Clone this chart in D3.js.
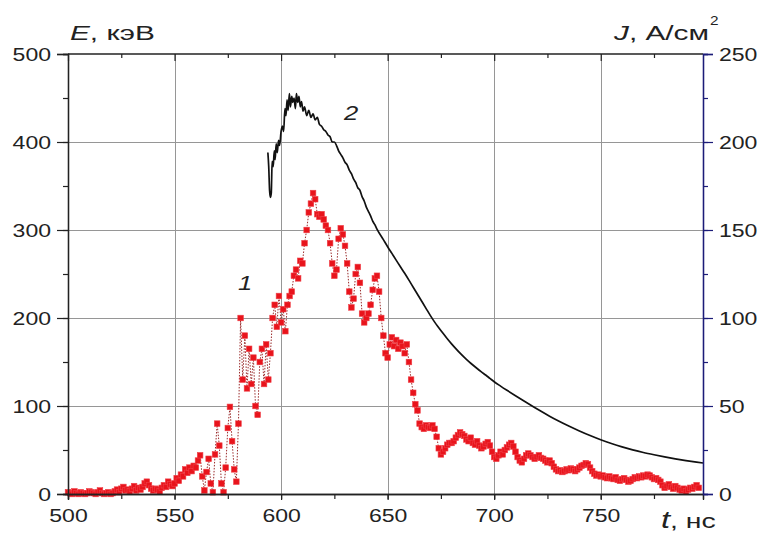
<!DOCTYPE html>
<html>
<head>
<meta charset="utf-8">
<script src="https://cdn.jsdelivr.net/npm/d3@7/dist/d3.min.js"></script>
<style>
  html, body { margin: 0; padding: 0; background: #fff; }
  svg { display: block; font-family: "Liberation Sans", Arial, sans-serif; }
</style>
</head>
<body>
<svg id="chart" width="763" height="533"></svg>
<script>
// Curve 1: electron energy E (keV), sampled every 1 ns from 500 ns
const energyStart = 500;
const energyValues = [
  2, 1, 0, 3, 1, 0, 2, 1, 0, 1,
  3, 2, 1, 0, 2, 4, 1, 0, 1, 2,
  0, 1, 3, 5, 2, 6, 8, 4, 5, 3,
  6, 9, 4, 7, 5, 8, 12, 14, 10, 6,
  4, 6, 5, 3, 7, 10, 8, 14, 11, 9,
  12, 18, 15, 22, 20, 28, 24, 30, 26, 32,
  30, 38, 44, 20, 4, 25, 40, 12, 2, 45,
  80, 55, 12, 2, 30, 75, 99, 60, 28, 14,
  80, 200, 130, 180, 120, 165, 125, 155, 100, 90,
  150, 165, 125, 170, 130, 160, 200, 215, 190, 225,
  195, 210, 185, 215, 225, 230, 248, 255, 245, 265,
  262, 285, 300, 320, 330, 342, 335, 318, 315, 318,
  312, 305, 300, 285, 262, 248, 255, 290, 302, 295,
  282, 262, 230, 212, 222, 250, 258, 240, 205, 195,
  200, 205, 215, 232, 245, 248, 230, 200, 180, 160,
  155, 170, 178, 168, 175, 165, 172, 168, 160, 170,
  150, 130, 115, 102, 95, 80, 76, 74, 78, 76,
  75, 78, 74, 65, 52, 45, 48, 52, 56, 58,
  58, 60, 64, 67, 70, 68, 66, 62, 60, 64,
  58, 56, 60, 55, 52, 54, 57, 59, 55, 48,
  42, 40, 44, 48, 45, 50, 53, 56, 58, 54,
  48, 42, 38, 36, 40, 44, 46, 44, 42, 40,
  42, 44, 41, 40, 38, 36, 38, 35, 31, 28,
  26, 27, 25, 26, 28, 27, 29, 28, 26, 28,
  30, 32, 33, 35, 34, 30, 26, 23, 21, 22,
  20, 21, 19, 18, 20, 18, 17, 19, 16, 15,
  17, 18, 16, 14, 15, 17, 19, 18, 20, 19,
  21, 20, 22, 21, 19, 17, 18, 16, 14, 10,
  7, 9, 11, 8, 6, 9, 7, 5, 4, 6,
  3, 5, 7, 6, 8, 10, 7
];

// Curve 2: current density J (A/cm^2)
const currentTimes = [
  593.8, 594.2, 594.6, 595.0, 595.4, 595.8, 596.3, 596.8, 597.2, 597.7,
  598.2, 598.8, 599.3, 600.0, 600.6, 601.2, 601.8, 602.3, 602.8, 603.3,
  603.9, 604.4, 605.0, 605.5, 606.1, 606.7, 607.2, 607.8, 608.4, 609.0,
  609.6, 610.3, 611, 612, 613, 614, 615, 616, 617, 618,
  619, 620, 621, 622, 623, 624, 625, 626, 627, 628,
  629, 630, 631, 632, 633, 634, 635, 636, 637, 638,
  639, 640, 641, 642, 643, 644, 645, 648, 650, 652,
  654, 656, 658, 660, 662, 664, 666, 668, 670, 672,
  674, 676, 678, 680, 682, 684, 686, 688, 690, 692,
  694, 696, 698, 700, 703, 706, 710, 714, 718, 722,
  726, 730, 735, 740, 745, 750, 755, 760, 765, 770,
  775, 780, 785, 790, 795, 798
];
const currentValues = [
  194, 186, 172.5, 168.5, 171, 189, 186, 195, 190, 199,
  194, 201, 198, 206, 209, 206, 219, 215, 224, 218,
  227.5, 220, 226, 222.5, 225, 219, 227.5, 222.5, 226, 220,
  223, 217.5, 220, 215, 218, 214, 216, 212.5, 214, 210,
  209, 207, 206, 204, 203, 200, 200, 198, 195, 193,
  191, 188.5, 187, 184, 182, 179, 177, 174, 172.5, 169,
  166.5, 163, 160.5, 158, 155, 153, 150.5, 144.5, 140.5, 136.7,
  132.9, 129.1, 125.4, 121.5, 117.5, 113.5, 109.5, 105.5, 101.5, 97.8,
  94.5, 91.3, 88.2, 85.3, 82.6, 80, 77.6, 75.4, 73.3, 71.3,
  69.4, 67.6, 65.7, 63.8, 61.3, 58.9, 55.8, 52.8, 49.9, 47.0,
  44.2, 41.6, 38.6, 35.8, 33.2, 30.8, 28.7, 26.8, 25.1, 23.6,
  22.3, 21.1, 20.0, 19.0, 18.1, 17.6
];

const xTicks = [500, 550, 600, 650, 700, 750];
const leftTicks = [0, 100, 200, 300, 400, 500];
const rightTicks = [0, 50, 100, 150, 200, 250];

const energy = energyValues.map((v, i) => ({ t: energyStart + i, v }));
const current = currentTimes.map((t, i) => ({ t, v: currentValues[i] }));

const svg = d3.select("#chart");
const L = 68, R = 703, T = 54, B = 494;
const ink = "#222";
const navy = "#1c1c78";
const stretch = 1.28;      // wide lettering for numbers
const titleStretch = 1.42; // wide lettering for axis titles

const x = d3.scaleLinear().domain([500, 798]).range([L, R]);
const yE = d3.scaleLinear().domain([0, 500]).range([B, T]);
const yJ = d3.scaleLinear().domain([0, 250]).range([B, T]);

// grid
const grid = svg.append("g").attr("stroke", "#969696").attr("stroke-width", 1);
grid.selectAll("line.v").data(xTicks.filter(d => d > 500)).join("line")
  .attr("x1", d => Math.round(x(d)) + 0.5).attr("x2", d => Math.round(x(d)) + 0.5)
  .attr("y1", T).attr("y2", B);
grid.selectAll("line.h").data(leftTicks.filter(d => d > 0 && d < 500)).join("line")
  .attr("x1", L).attr("x2", R)
  .attr("y1", d => Math.round(yE(d)) + 0.5).attr("y2", d => Math.round(yE(d)) + 0.5);

// curve 1: connecting dotted line + square markers
const lineE = d3.line().x(d => x(d.t)).y(d => yE(d.v));
svg.append("path").datum(energy)
  .attr("d", lineE).attr("fill", "none")
  .attr("stroke", "#9a2a2a").attr("stroke-width", 1)
  .attr("stroke-dasharray", "1.5,1.5");
svg.append("g").selectAll("rect").data(energy).join("rect")
  .attr("x", d => x(d.t) - 2.8).attr("y", d => yE(d.v) - 2.8)
  .attr("width", 5.6).attr("height", 5.6)
  .attr("fill", "#e8141c").attr("stroke", "#f04048").attr("stroke-width", 0.6);

// curve 2
const lineJ = d3.line().curve(d3.curveMonotoneX).x(d => x(d.t)).y(d => yJ(d.v));
svg.append("path").datum(current)
  .attr("d", lineJ).attr("fill", "none")
  .attr("stroke", "#111").attr("stroke-width", 1.7).attr("stroke-linejoin", "round");

// axes
const minorX = d3.range(500, 799, 25);
const axB = svg.append("g").attr("transform", `translate(0,${B})`)
  .call(d3.axisBottom(x).tickValues(minorX).tickSize(5).tickFormat(""));
const axBL = svg.append("g").attr("transform", `translate(0,${B})`)
  .call(d3.axisBottom(x).tickValues(xTicks).tickSize(6).tickPadding(9).tickFormat(d3.format("d")));
const axT = svg.append("g").attr("transform", `translate(0,${T})`)
  .call(d3.axisBottom(x).tickValues(minorX).tickSize(5).tickFormat(""));
const axL = svg.append("g").attr("transform", `translate(${L},0)`)
  .call(d3.axisLeft(yE).tickValues(d3.range(0, 501, 50)).tickSize(5).tickFormat(""));
const axLL = svg.append("g").attr("transform", `translate(${L},0)`)
  .call(d3.axisLeft(yE).tickValues(leftTicks).tickSize(11).tickPadding(6).tickFormat(d3.format("d")));
const axR = svg.append("g").attr("transform", `translate(${R},0)`)
  .call(d3.axisRight(yJ).tickValues(d3.range(0, 251, 25)).tickSize(5).tickFormat(""));
const axRL = svg.append("g").attr("transform", `translate(${R},0)`)
  .call(d3.axisRight(yJ).tickValues(rightTicks).tickSize(10).tickPadding(6).tickFormat(d3.format("d")));

[axB, axBL, axT, axL, axLL].forEach(g => {
  g.selectAll("path.domain").attr("stroke", ink).attr("stroke-width", 1.3);
  g.selectAll(".tick line").attr("stroke", ink).attr("stroke-width", 1.2);
});
[axR, axRL].forEach(g => {
  g.selectAll("path.domain").attr("stroke", navy).attr("stroke-width", 1.3);
  g.selectAll(".tick line").attr("stroke", navy).attr("stroke-width", 1.2);
});
axT.select("path.domain").attr("d", `M${L},0H${R}`);
axT.selectAll(".tick line").attr("y2", d => xTicks.includes(d) ? 7 : 4);

// tick labels, widened horizontally
[axBL, axLL, axRL].forEach(g => g.selectAll(".tick text").each(function () {
  const t = d3.select(this);
  const tx = +t.attr("x") || 0, ty = +t.attr("y") || 0;
  t.attr("x", 0).attr("y", 0)
    .attr("transform", `translate(${tx},${ty}) scale(${stretch},1)`)
    .attr("font-size", 18).attr("fill", ink)
    .attr("font-family", "'Liberation Sans', Arial, sans-serif");
}));
axLL.selectAll(".tick text").attr("dy", "0.36em");
axRL.selectAll(".tick text").attr("dy", "0.36em");

// helper for widened free text
function wideText(px, py, size, anchor, sx) {
  return svg.append("text")
    .attr("transform", `translate(${px},${py}) scale(${sx || stretch},1)`)
    .attr("font-size", size).attr("fill", ink).attr("text-anchor", anchor || "start");
}

// axis titles
const tE = wideText(70, 40, 21, "start", titleStretch);
tE.append("tspan").attr("font-style", "italic").text("E");
tE.append("tspan").text(", кэВ");

const tJ = wideText(709, 40, 21, "end", titleStretch);
tJ.append("tspan").attr("font-style", "italic").text("J");
tJ.append("tspan").text(", А/см");
wideText(710, 25, 12).text("2");

const tT = wideText(661, 528, 20, "start", titleStretch);
tT.append("tspan").attr("font-style", "italic").attr("font-size", 23).text("t");
tT.append("tspan").text(", нс");

// curve labels
wideText(238, 290, 20).attr("font-style", "italic").text("1");
wideText(344, 120, 20).attr("font-style", "italic").text("2");
</script>
</body>
</html>
